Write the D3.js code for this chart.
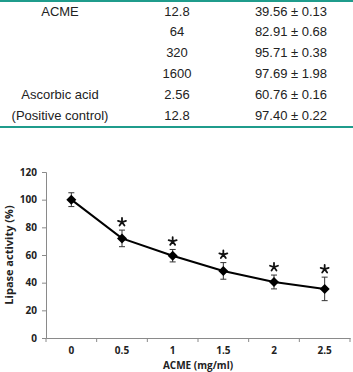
<!DOCTYPE html>
<html>
<head>
<meta charset="utf-8">
<script src="https://cdn.jsdelivr.net/npm/d3@7"></script>
<style>
  body { margin: 0; background: #fff; }
  svg { display: block; }
</style>
</head>
<body>
<svg id="fig" width="353" height="372"></svg>
<script>
// table contents
var tableSample = ["ACME", "", "", "", "Ascorbic acid", "(Positive control)"];
var tableConc = ["12.8", "64", "320", "1600", "2.56", "12.8"];
var tableMean = ["39.56", "82.91", "95.71", "97.69", "60.76", "97.40"];
var tableSd = ["0.13", "0.68", "0.38", "1.98", "0.16", "0.22"];

// chart data
var doses = ["0", "0.5", "1", "1.5", "2", "2.5"];
var activity = [100, 72, 59.5, 48.5, 40.5, 35.5];
var errors = [5, 6, 4.5, 6, 5, 8.5];
var significant = [false, true, true, true, true, true];
var yTicks = [0, 20, 40, 60, 80, 100, 120];

var svg = d3.select("#fig");
var teal = "#1f9c8c";

// --- table ---
svg.append("line").attr("x1", 0).attr("x2", 353).attr("y1", 1).attr("y2", 1)
    .attr("stroke", teal).attr("stroke-width", 2);
svg.append("line").attr("x1", 0).attr("x2", 353).attr("y1", 127).attr("y2", 127)
    .attr("stroke", teal).attr("stroke-width", 2);

var rowY = d3.scalePoint().domain(d3.range(tableConc.length)).range([11, 115]);
var cols = [60, 177, 291];

var rows = svg.append("g")
    .attr("font-family", "Liberation Sans, Arial, sans-serif")
    .attr("font-size", 13)
    .attr("fill", "#222")
    .attr("text-anchor", "middle")
    .selectAll("g").data(d3.range(tableConc.length)).enter().append("g")
    .attr("transform", function (i) { return "translate(0," + rowY(i) + ")"; });

rows.append("text").attr("x", cols[0]).attr("dy", "0.35em")
    .text(function (i) { return tableSample[i]; });
rows.append("text").attr("x", cols[1]).attr("dy", "0.35em")
    .text(function (i) { return tableConc[i]; });
rows.append("text").attr("x", cols[2]).attr("dy", "0.35em")
    .text(function (i) { return tableMean[i] + " \u00b1 " + tableSd[i]; });

// --- chart ---
var x = d3.scaleBand().domain(doses).range([46, 350]);
var y = d3.scaleLinear().domain([0, 120]).range([338, 172]);

var g = svg.append("g");
var axisColor = "#8a8a8a";

var yAxis = g.append("g")
    .attr("transform", "translate(46,0)")
    .call(d3.axisLeft(y).tickValues(yTicks).tickSize(4).tickPadding(5));
var xAxis = g.append("g")
    .attr("transform", "translate(0,338)")
    .call(d3.axisBottom(x).tickSize(0).tickPadding(9));

// x ticks on the category boundaries
xAxis.selectAll(".bound").data(d3.range(doses.length + 1)).enter().append("line")
    .attr("class", "bound")
    .attr("x1", function (i) { return 46 + i * x.step(); })
    .attr("x2", function (i) { return 46 + i * x.step(); })
    .attr("y1", 0).attr("y2", 4)
    .attr("stroke", axisColor);

[yAxis, xAxis].forEach(function (a) {
    a.selectAll("path, line").attr("stroke", axisColor);
    a.selectAll("text")
        .attr("font-family", "Open Sans, sans-serif")
        .attr("font-weight", "bold")
        .attr("font-size", 10)
        .attr("fill", "#222");
});

g.append("text")
    .attr("x", 198).attr("y", 369)
    .attr("text-anchor", "middle")
    .attr("font-family", "Open Sans, sans-serif")
    .attr("font-weight", "bold")
    .attr("font-size", 10)
    .attr("fill", "#222")
    .text("ACME (mg/ml)");

g.append("text")
    .attr("transform", "translate(13,255) rotate(-90)")
    .attr("text-anchor", "middle")
    .attr("font-family", "Open Sans, sans-serif")
    .attr("font-weight", "bold")
    .attr("font-size", 11)
    .attr("fill", "#222")
    .text("Lipase activity (%)");

var cx = function (i) { return x(doses[i]) + x.bandwidth() / 2; };
var idx = d3.range(doses.length);

// error bars
var eb = g.append("g").attr("stroke", "#333").attr("stroke-width", 1);
eb.selectAll(".v").data(idx).enter().append("line")
    .attr("x1", cx).attr("x2", cx)
    .attr("y1", function (i) { return y(activity[i] + errors[i]); })
    .attr("y2", function (i) { return y(activity[i] - errors[i]); });
[1, -1].forEach(function (s) {
    eb.selectAll(".c" + s).data(idx).enter().append("line")
        .attr("x1", function (i) { return cx(i) - 3; })
        .attr("x2", function (i) { return cx(i) + 3; })
        .attr("y1", function (i) { return y(activity[i] + s * errors[i]); })
        .attr("y2", function (i) { return y(activity[i] + s * errors[i]); });
});

// line
g.append("path")
    .datum(idx)
    .attr("fill", "none")
    .attr("stroke", "#000")
    .attr("stroke-width", 2)
    .attr("d", d3.line().x(cx).y(function (i) { return y(activity[i]); }));

// diamond markers
g.selectAll(".mk").data(idx).enter().append("path")
    .attr("transform", function (i) { return "translate(" + cx(i) + "," + y(activity[i]) + ")"; })
    .attr("d", "M0,-5L5,0L0,5L-5,0Z")
    .attr("fill", "#000");

// significance stars, drawn as small asterisk glyphs
var spokes = "";
for (var k = 0; k < 5; k++) {
    var a = -Math.PI / 2 + k * 2 * Math.PI / 5;
    spokes += "M0,0L" + (4.2 * Math.cos(a)).toFixed(2) + "," + (4.2 * Math.sin(a)).toFixed(2);
}
g.selectAll(".star").data(idx.filter(function (i) { return significant[i]; })).enter().append("path")
    .attr("transform", function (i) { return "translate(" + cx(i) + "," + (y(activity[i] + errors[i]) - 8) + ")"; })
    .attr("d", spokes)
    .attr("stroke", "#111")
    .attr("stroke-width", 1.8)
    .attr("stroke-linecap", "round")
    .attr("fill", "none");
</script>
</body>
</html>
